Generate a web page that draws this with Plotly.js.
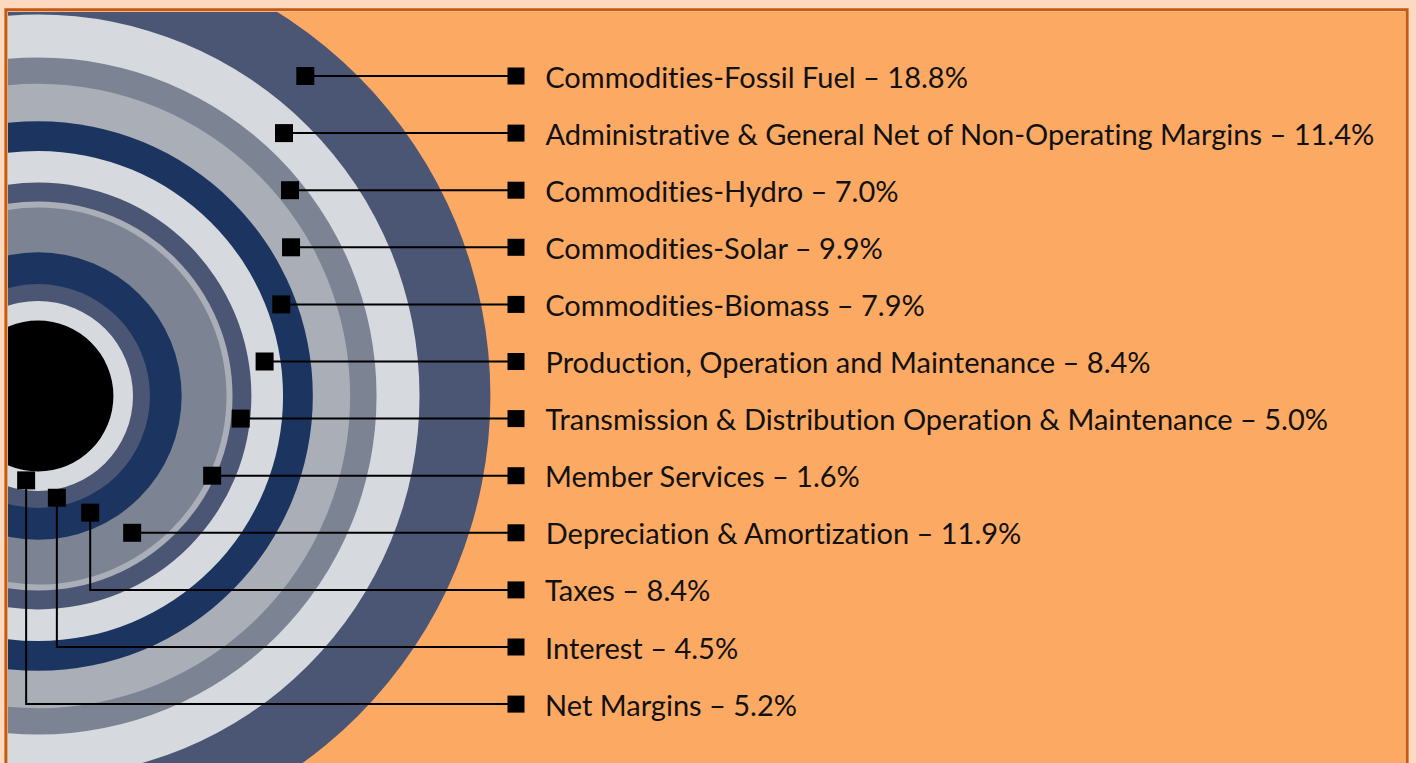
<!DOCTYPE html>
<html>
<head>
<meta charset="utf-8">
<script src="https://cdn.plot.ly/plotly-3.0.1.min.js"></script>
<style>
  html, body { margin: 0; padding: 0; background: #fdd9bf; }
  #chart { width: 1416px; height: 763px; }
  #chart text { font-variant-ligatures: none; font-feature-settings: "liga" 0; }
</style>
</head>
<body>
<div id="chart"></div>
<script>
// Expense categories, listed top to bottom as in the legend (outer ring first)
const categories = [
  'Commodities-Fossil Fuel',
  'Administrative & General Net of Non-Operating Margins',
  'Commodities-Hydro',
  'Commodities-Solar',
  'Commodities-Biomass',
  'Production, Operation and Maintenance',
  'Transmission & Distribution Operation & Maintenance',
  'Member Services',
  'Depreciation & Amortization',
  'Taxes',
  'Interest',
  'Net Margins'
];
const shares = [18.8, 11.4, 7.0, 9.9, 7.9, 8.4, 5.0, 1.6, 11.9, 8.4, 4.5, 5.2];
const ringColors = [
  '#4a5673', '#d6d9de', '#7c8392', '#a9aeb7', '#1b3560', '#d6d9de',
  '#4a5673', '#a9aeb7', '#7c8392', '#1b3560', '#4a5673', '#d6d9de'
];

// layout (pixels) -> data units (1 unit = 1 percentage point of ring width)
const SCALE = 3.77;          // px per unit
const HOLE = 20;             // black centre radius, units
const CX = 38, CY = 396;     // circle centre in px
const PLOT = { l: 8, t: 12, r: 1405, b: 763 };
const ROW_TOP = 76, ROW_STEP = 57.1;
const LABEL_SQ_PX = 516, LABEL_TXT_PX = 543;
// angles for the three inner rings whose pointers drop down
const dropAngles = { 9: -65.9, 10: -79.5, 11: -98 };

const ux = px => (px - CX) / SCALE;
const uy = px => (CY - px) / SCALE;

// ring radii: inner rings are the last entries
const n = shares.length;
const outer = new Array(n), inner = new Array(n);
let acc = HOLE;
for (let i = n - 1; i >= 0; i--) {
  inner[i] = acc;
  acc += shares[i];
  outer[i] = acc;
}

const shapes = [];
for (let i = 0; i < n; i++) {
  shapes.push({
    type: 'circle', xref: 'x', yref: 'y', layer: 'below',
    x0: -outer[i], x1: outer[i], y0: -outer[i], y1: outer[i],
    fillcolor: ringColors[i], line: { width: 0 }
  });
}
shapes.push({
  type: 'circle', xref: 'x', yref: 'y', layer: 'below',
  x0: -HOLE, x1: HOLE, y0: -HOLE, y1: HOLE,
  fillcolor: '#000000', line: { width: 0 }
});
// frame border
shapes.push({
  type: 'rect', xref: 'paper', yref: 'paper',
  x0: -0.0015, x1: 1.0015, y0: -0.2, y1: 1.003,
  fillcolor: 'rgba(0,0,0,0)', line: { color: '#c55a11', width: 3 }
});

const ptX = [], ptY = [], lineX = [], lineY = [], sqX = [], sqY = [];
const annotations = [];
categories.forEach((name, i) => {
  const rowY = uy(ROW_TOP + ROW_STEP * i);
  const mid = (inner[i] + outer[i]) / 2;
  let px, py;
  if (dropAngles[i] !== undefined) {
    const a = dropAngles[i] * Math.PI / 180;
    px = mid * Math.cos(a);
    py = mid * Math.sin(a);
    lineX.push(px, px, ux(LABEL_SQ_PX), null);
    lineY.push(py, rowY, rowY, null);
  } else {
    py = rowY;
    px = Math.sqrt(mid * mid - py * py);
    lineX.push(px, ux(LABEL_SQ_PX), null);
    lineY.push(py, rowY, null);
  }
  ptX.push(px); ptY.push(py);
  sqX.push(ux(LABEL_SQ_PX)); sqY.push(rowY);
  annotations.push({
    x: ux(LABEL_TXT_PX), y: rowY, xref: 'x', yref: 'y',
    xanchor: 'left', yanchor: 'middle', showarrow: false,
    text: name + ' – ' + shares[i].toFixed(1) + '%',
    font: { family: 'Lato, sans-serif', size: 29, color: '#111111' }
  });
});

const traces = [
  {
    type: 'scatter', mode: 'lines', x: lineX, y: lineY,
    line: { color: '#000000', width: 2 }, hoverinfo: 'skip'
  },
  {
    type: 'scatter', mode: 'markers', x: ptX, y: ptY, text: categories,
    marker: { symbol: 'square', size: 18, color: '#000000' }, hoverinfo: 'text'
  },
  {
    type: 'scatter', mode: 'markers', x: sqX, y: sqY, text: categories,
    marker: { symbol: 'square', size: 17, color: '#000000' }, hoverinfo: 'text'
  }
];

const layout = {
  width: 1416, height: 763,
  margin: { l: PLOT.l, t: PLOT.t, r: 1416 - PLOT.r, b: 763 - PLOT.b, pad: 0 },
  paper_bgcolor: '#fdd9bf',
  plot_bgcolor: '#fba963',
  showlegend: false,
  xaxis: { range: [ux(PLOT.l), ux(PLOT.r)], visible: false, fixedrange: true },
  yaxis: { range: [uy(PLOT.b), uy(PLOT.t)], visible: false, fixedrange: true },
  shapes: shapes,
  annotations: annotations
};

Plotly.newPlot('chart', traces, layout, { displayModeBar: false, staticPlot: true });
</script>
</body>
</html>
